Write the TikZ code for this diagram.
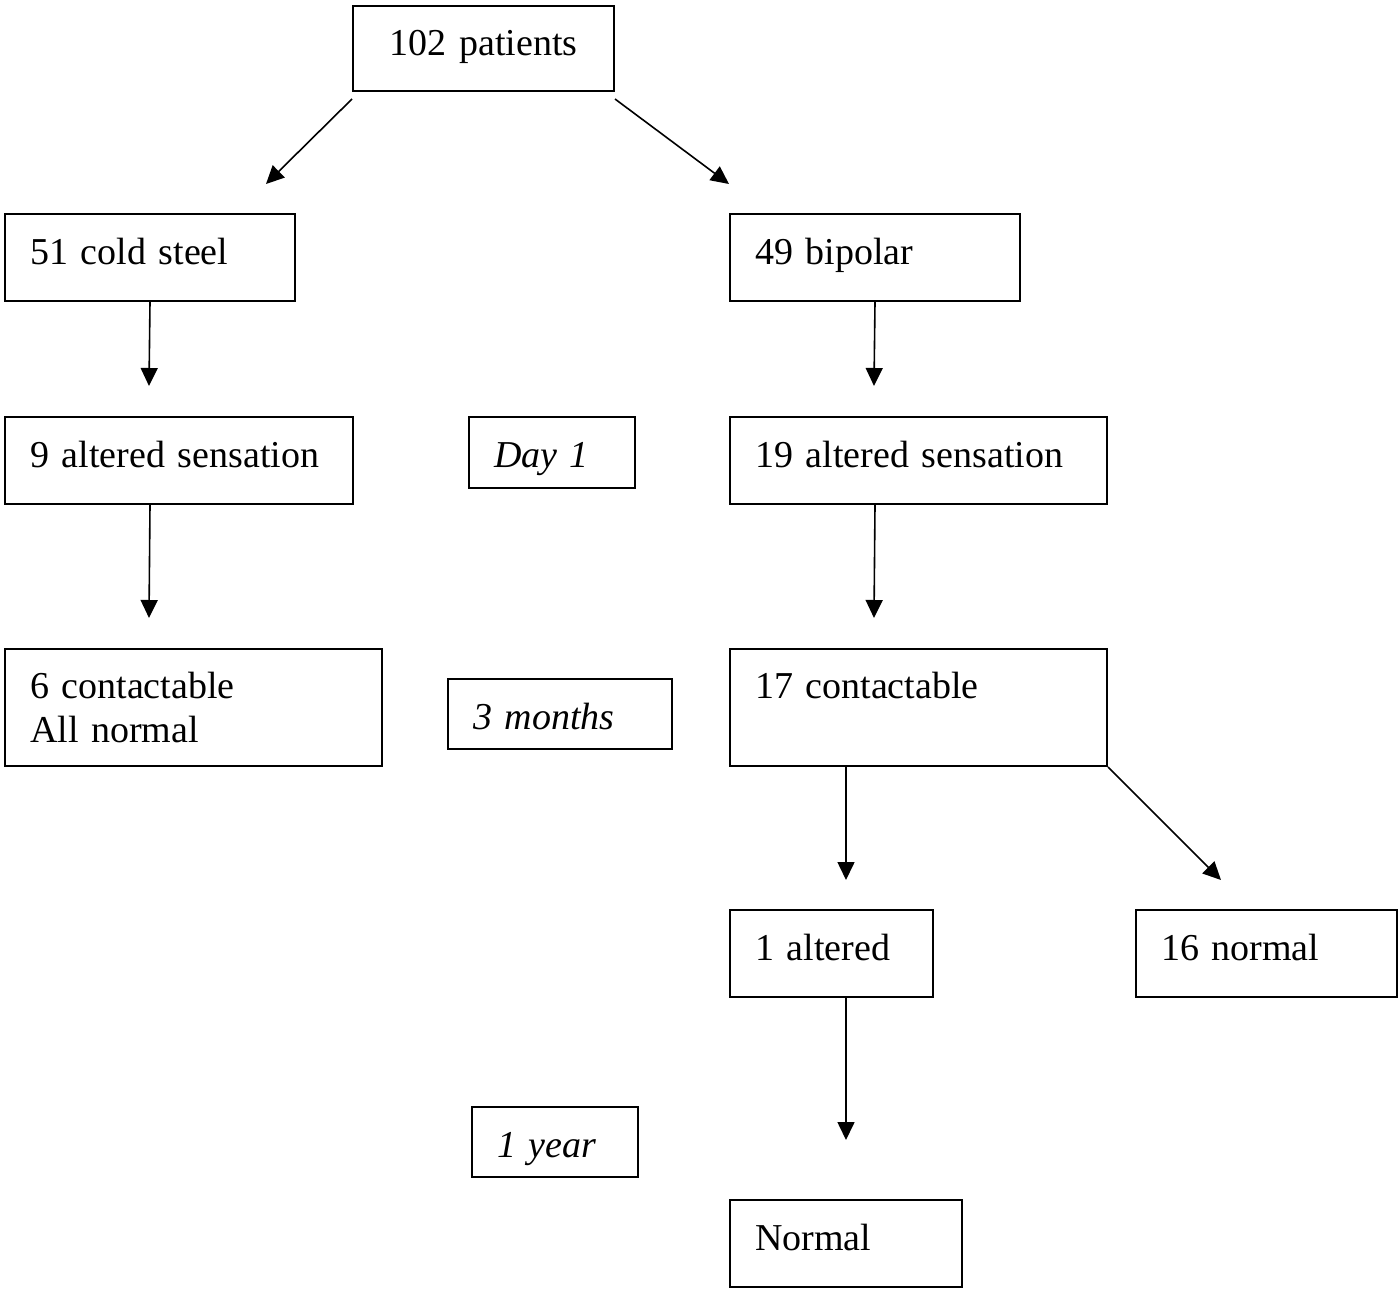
\documentclass[tikz,border=0pt]{standalone}
\usepackage{fontspec}
\setmainfont{Liberation Serif}
\usetikzlibrary{arrows.meta,calc}
\begin{document}
\begin{tikzpicture}[x=1pt,y=-1pt,
 box/.style={draw, line width=2pt, anchor=north west, align=left, inner xsep=25pt, inner ysep=0pt, font=\fontsize{38}{44}\selectfont},
 one/.style={box, text height=27pt, text depth=13pt},
 ital/.style={box, text height=30pt, text depth=0pt, font=\fontsize{38}{44}\selectfont\itshape},
 arr/.style={line width=1.6pt, -{Triangle[length=18pt,width=17pt]}}]
\useasboundingbox (0,0) rectangle (1400,1290);
\node[one, align=center, text width=211pt, minimum height=85pt] (p) at (352,5) {102 patients};
\node[one, text width=240pt, minimum height=87pt] (cs) at (4,213) {51 cold steel};
\node[one, text width=240pt, minimum height=87pt] (bp) at (729,213) {49 bipolar};
\node[one, text width=298pt, minimum height=87pt] (as1) at (4,416) {9 altered sensation};
\node[ital, text width=116pt, minimum height=71pt] (d1) at (468,416) {Day 1};
\node[one, text width=327pt, minimum height=87pt] (as2) at (729,416) {19 altered sensation};
\node[box, text width=327pt, minimum height=117pt] (c6) at (4,648) {6 contactable\\All normal};
\node[ital, text width=174pt, minimum height=70pt] (m3) at (447,678) {3 months};
\node[box, text width=327pt, minimum height=117pt] (c17) at (729,648) {17 contactable\\ \mbox{}};
\node[one, text width=153pt, minimum height=87pt] (al) at (729,909) {1 altered};
\node[one, text width=211pt, minimum height=87pt] (nm16) at (1135,909) {16 normal};
\node[ital, text width=116pt, minimum height=70pt] (y1) at (471,1106) {1 year};
\node[one, text width=182pt, minimum height=87pt] (nm) at (729,1199) {Normal};

\coordinate (e1) at (266,184);
\coordinate (e2) at (729,184);
\coordinate (e3) at (149,386);
\coordinate (e4) at (874,386);
\coordinate (e5) at (149,618);
\coordinate (e6) at (874,618);
\coordinate (e7) at (846,880);
\coordinate (e8) at (1221,880);
\coordinate (e9) at (846,1140);

\draw[arr] ($(p.south west)+(0,7)$) -- (e1);
\draw[arr] ($(p.south east)+(0,7)$) -- (e2);
\draw[arr] (cs.south) -- (e3);
\draw[arr] (bp.south) -- (e4);
\draw[arr] (cs.south |- as1.south) -- (e5);
\draw[arr] (bp.south |- as2.south) -- (e6);
\draw[arr] ($(c17.south west)+(117,0)$) -- (e7);
\draw[arr] (c17.south east) -- (e8);
\draw[arr] ($(al.south west)+(117,0)$) -- (e9);
\end{tikzpicture}
\end{document}
